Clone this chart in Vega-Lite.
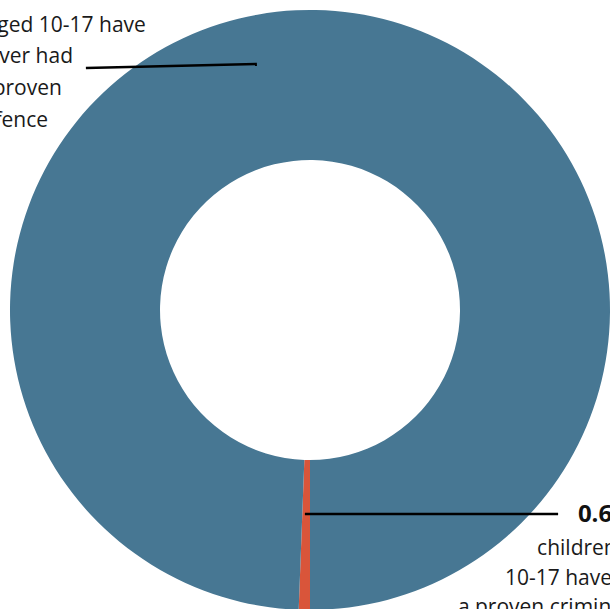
{
  "$schema": "https://vega.github.io/schema/vega-lite/v6.json",
  "width": 620,
  "height": 620,
  "padding": 0,
  "autosize": {"type": "none"},
  "background": "white",
  "config": {"view": {"stroke": null}},
  "datasets": {
    "slices": [
      {"group": "Proven offence", "share": 0.6, "rank": 1},
      {"group": "No proven offence", "share": 99.4, "rank": 2}
    ],
    "leaders": [
      {"u": -74.7, "v": 80.7, "u2": -17.7, "v2": 82.0},
      {"u": -1.7, "v": -68.0, "u2": 82.7, "v2": -68.0}
    ],
    "leftLabel": [
      {"u": -54.7, "v": 92.7, "line": "children aged 10-17 have"},
      {"u": -79.0, "v": 82.2, "line": "never had"},
      {"u": -82.7, "v": 71.7, "line": "a proven"},
      {"u": -87.3, "v": 61.0, "line": "offence"}
    ],
    "rightLabel": [
      {"u": 75.7, "v": -81.7, "line": "children aged"},
      {"u": 65.0, "v": -91.7, "line": "10-17 have had"},
      {"u": 49.3, "v": -101.3, "line": "a proven criminal offence"}
    ],
    "rightValue": [
      {"u": 89.3, "v": -70.7, "line": "0.6%"}
    ]
  },
  "layer": [
    {
      "data": {"name": "slices"},
      "mark": {"type": "arc", "outerRadius": 300, "innerRadius": 150},
      "encoding": {
        "theta": {"field": "share", "type": "quantitative", "stack": true, "scale": {"range": [3.14159265, 9.42477796]}},
        "order": {"field": "rank", "type": "quantitative"},
        "color": {"field": "group", "type": "nominal", "legend": null,
          "scale": {"domain": ["Proven offence", "No proven offence"], "range": ["#D9553A", "#477793"]}}
      }
    },
    {
      "data": {"name": "leaders"},
      "mark": {"type": "rule", "color": "#000000", "strokeWidth": 2.5},
      "encoding": {
        "x": {"field": "u", "type": "quantitative", "axis": null, "scale": {"domain": [-103.333, 103.333], "nice": false, "zero": false}},
        "y": {"field": "v", "type": "quantitative", "axis": null, "scale": {"domain": [-103.333, 103.333], "nice": false, "zero": false}},
        "x2": {"field": "u2"},
        "y2": {"field": "v2"}
      }
    },
    {
      "data": {"name": "leftLabel"},
      "mark": {"type": "text", "align": "right", "baseline": "alphabetic", "font": "Open Sans", "fontSize": 21, "color": "#1a1a1a"},
      "encoding": {
        "x": {"field": "u", "type": "quantitative", "axis": null, "scale": {"domain": [-103.333, 103.333], "nice": false, "zero": false}},
        "y": {"field": "v", "type": "quantitative", "axis": null, "scale": {"domain": [-103.333, 103.333], "nice": false, "zero": false}},
        "text": {"field": "line", "type": "nominal"}
      }
    },
    {
      "data": {"name": "rightLabel"},
      "mark": {"type": "text", "align": "left", "baseline": "alphabetic", "font": "Open Sans", "fontSize": 21, "color": "#1a1a1a"},
      "encoding": {
        "x": {"field": "u", "type": "quantitative", "axis": null, "scale": {"domain": [-103.333, 103.333], "nice": false, "zero": false}},
        "y": {"field": "v", "type": "quantitative", "axis": null, "scale": {"domain": [-103.333, 103.333], "nice": false, "zero": false}},
        "text": {"field": "line", "type": "nominal"}
      }
    },
    {
      "data": {"name": "rightValue"},
      "mark": {"type": "text", "align": "left", "baseline": "alphabetic", "font": "Open Sans", "fontSize": 24, "fontWeight": "bold", "color": "#111111"},
      "encoding": {
        "x": {"field": "u", "type": "quantitative", "axis": null, "scale": {"domain": [-103.333, 103.333], "nice": false, "zero": false}},
        "y": {"field": "v", "type": "quantitative", "axis": null, "scale": {"domain": [-103.333, 103.333], "nice": false, "zero": false}},
        "text": {"field": "line", "type": "nominal"}
      }
    }
  ]
}
